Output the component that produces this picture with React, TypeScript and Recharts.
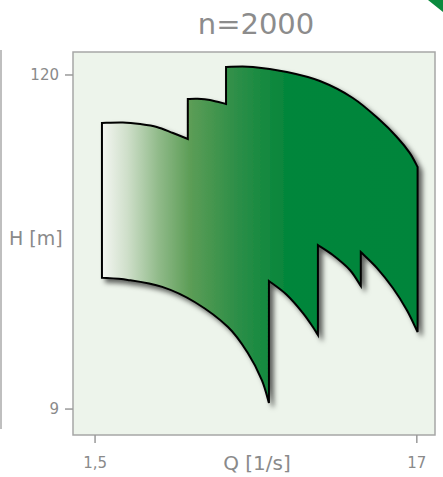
import { CartesianGrid, ComposedChart, ReferenceArea, Scatter, XAxis, YAxis } from "recharts";

// pump operating range, n=2000
const upperQ = [1.58, 1.85, 2.11, 2.39, 2.7, 3.02, 3.02, 3.24, 3.57, 4.03, 4.03, 4.94, 6.38, 8.18, 10.49, 12.86, 14.62, 16.13, 17.1];
const upperH = [82.7, 83.0, 82.0, 80.2, 76.5, 73.1, 99.6, 99.8, 98.9, 95.8, 127.7, 127.7, 122.8, 114.5, 100.4, 84.6, 74.2, 65.5, 58.8];
const lowerQ = [1.58, 1.92, 2.49, 3.19, 4.09, 4.75, 5.28, 5.57, 5.57, 6.38, 7.2, 7.76, 8.06, 8.06, 9.02, 10.26, 11.14, 11.14, 12.57, 14.19, 15.76, 17.1];
const lowerH = [24.9, 24.5, 23.2, 20.6, 17.0, 13.9, 11.27, 9.43, 24.3, 21.8, 18.95, 17.0, 15.98, 32.1, 29.7, 26.45, 23.36, 30.4, 26.9, 23.0, 19.4, 16.35];

const qTicks = [1.5, 17];
const hTicks = [9, 120];
const qDomain = [1.27, 19.5];
const hDomain = [7.36, 143.4];

const outline = [
  ...upperQ.map((q, i) => ({ q, h: upperH[i] })),
  ...lowerQ.map((q, i) => ({ q, h: lowerH[i] })).reverse(),
];
outline.push(outline[0]);

const grey = "#8a8a8a";

type Pt = { x: number; y: number };

// smooth the curved runs, keep the vertical jumps as sharp corners
function buildPath(pts: Pt[]): string {
  if (!pts.length) return "";
  const vertical = (a: Pt, b: Pt) => Math.abs(a.x - b.x) < 0.5;
  let d = `M${pts[0].x},${pts[0].y}`;
  for (let i = 0; i < pts.length - 1; i++) {
    const p1 = pts[i];
    const p2 = pts[i + 1];
    if (vertical(p1, p2)) {
      d += ` L${p2.x},${p2.y}`;
      continue;
    }
    const p0 = i > 0 && !vertical(pts[i - 1], p1) ? pts[i - 1] : p1;
    const p3 = i + 2 < pts.length && !vertical(p2, pts[i + 2]) ? pts[i + 2] : p2;
    const c1x = p1.x + (p2.x - p0.x) / 6;
    const c1y = p1.y + (p2.y - p0.y) / 6;
    const c2x = p2.x - (p3.x - p1.x) / 6;
    const c2y = p2.y - (p3.y - p1.y) / 6;
    d += ` C${c1x},${c1y} ${c2x},${c2y} ${p2.x},${p2.y}`;
  }
  return d + " Z";
}

function RangeShape(props: { points?: Pt[] }) {
  const d = buildPath(props.points ?? []);
  return (
    <g>
      <defs>
        <linearGradient id="rangeFill" x1="0" y1="0" x2="1" y2="0">
          <stop offset="0" stopColor="#f4f6f2" />
          <stop offset="0.08" stopColor="#cfdfca" />
          <stop offset="0.18" stopColor="#90ba89" />
          <stop offset="0.28" stopColor="#5c9d56" />
          <stop offset="0.42" stopColor="#2f8f48" />
          <stop offset="0.58" stopColor="#05863b" />
          <stop offset="1" stopColor="#00853a" />
        </linearGradient>
        <filter id="rangeShadow" x="-10%" y="-10%" width="130%" height="130%">
          <feDropShadow dx="4" dy="4" stdDeviation="2.5" floodColor="#000" floodOpacity="0.6" />
        </filter>
      </defs>
      <path d={d} fill="url(#rangeFill)" stroke="#000" strokeWidth={2} strokeLinejoin="miter" filter="url(#rangeShadow)" />
    </g>
  );
}

export default function App() {
  return (
    <div style={{ position: "absolute", left: 0, top: 0, width: 443, height: 477, fontFamily: "'DejaVu Sans', sans-serif", background: "#fff" }}>
      <ComposedChart width={443} height={477} margin={{ top: 52, right: 8, bottom: 0, left: 0 }}>
        <CartesianGrid fill="#edf4eb" horizontal={false} vertical={false} />
        <XAxis
          dataKey="q"
          type="number"
          scale="log"
          domain={qDomain}
          allowDataOverflow
          ticks={qTicks}
          height={42}
          axisLine={false}
          tickLine={{ stroke: "#9a9a9a", strokeWidth: 1.5 }}
          tickSize={8}
          tickMargin={14}
          tick={{ fill: grey, fontSize: 15 }}
          tickFormatter={(v) => String(v).replace(".", ",")}
          label={{ value: "Q [1/s]", position: "insideBottom", offset: 7, dx: 3, fill: grey, fontSize: 20 }}
        />
        <YAxis
          dataKey="h"
          type="number"
          scale="log"
          domain={hDomain}
          allowDataOverflow
          ticks={hTicks}
          width={73}
          axisLine={false}
          tickLine={{ stroke: "#9a9a9a", strokeWidth: 1.5 }}
          tickSize={8}
          tickMargin={6}
          tick={{ fill: grey, fontSize: 15 }}
          label={{ value: "H [m]", position: "insideLeft", offset: 9, dy: -5, fill: grey, fontSize: 19 }}
        />
        <Scatter
          data={outline}
          isAnimationActive={false}
          line={(p: any) => <RangeShape points={p.points} />}
          lineType="joint"
          shape={() => <g />}
        />
        <ReferenceArea x1={qDomain[0]} x2={qDomain[1]} y1={hDomain[0]} y2={hDomain[1]} fill="none" stroke="#a6a6a6" strokeWidth={1.5} />
      </ComposedChart>
      <svg width={443} height={477} style={{ position: "absolute", left: 0, top: 0, pointerEvents: "none" }}>
        <text x={256} y={34} textAnchor="middle" fontSize={29} fill="#8c8c8c">n=2000</text>
        <line x1={1} y1={50} x2={1} y2={429} stroke="#aaaaaa" strokeWidth={1.5} />
        <polygon points="428,0 443,0 443,12" fill="#0b8a3e" />
      </svg>
    </div>
  );
}
